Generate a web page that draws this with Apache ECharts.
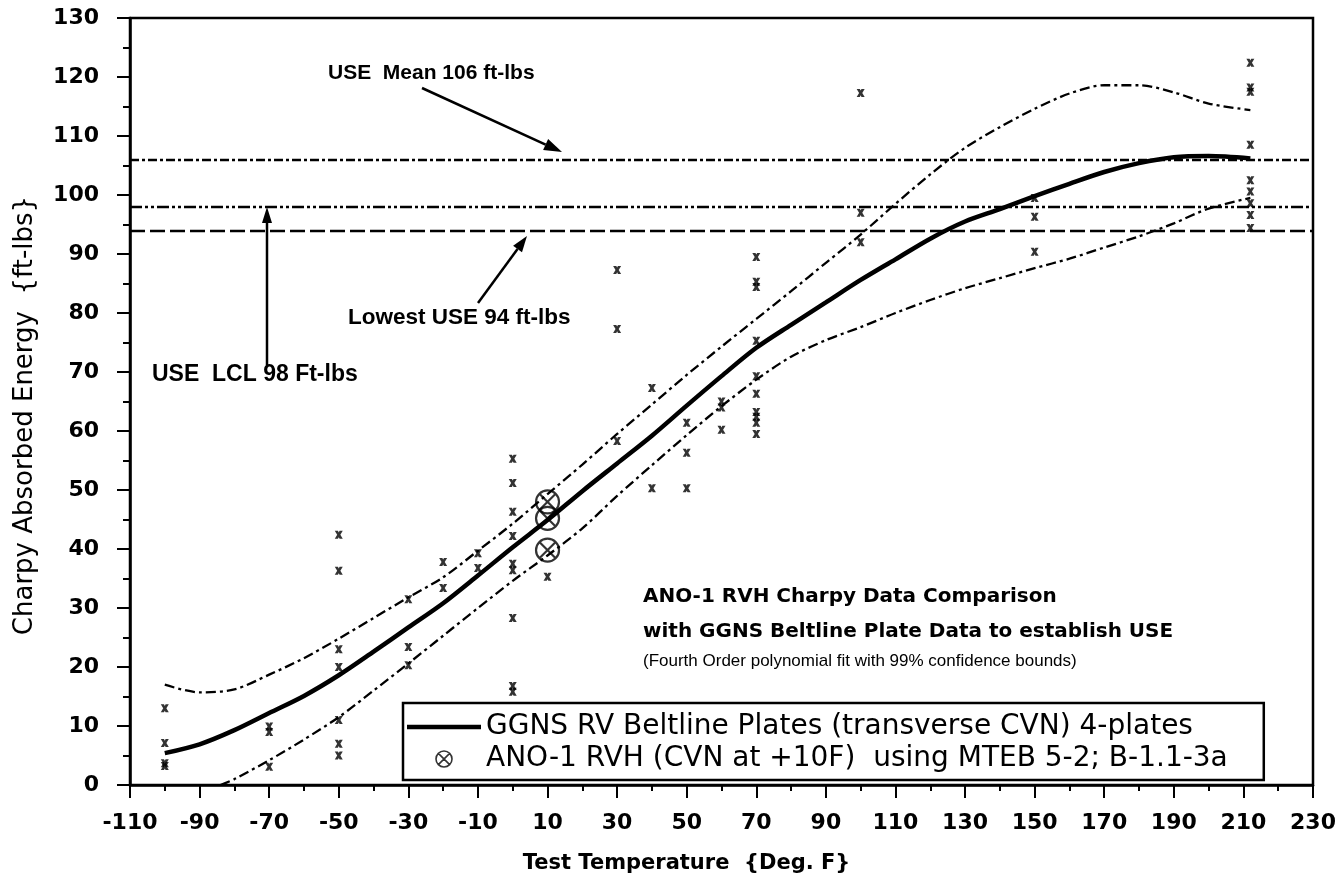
<!DOCTYPE html>
<html><head><meta charset="utf-8">
<script src="https://cdn.jsdelivr.net/npm/echarts@6/dist/echarts.min.js"></script>
<style>html,body{margin:0;padding:0;background:#fff}#c{width:1341px;height:884px}</style>
</head><body><div id="c"></div>
<script>
// ---- data ----
const fitX   = [-100,-90,-80,-70,-60,-50,-40,-30,-20,-10,0,10,20,30,40,50,60,70,80,90,100,110,120,130,140,150,160,170,180,190,200,212];
const fitY   = [5.4,6.9,9.3,12.2,15.1,18.6,22.6,26.7,30.8,35.5,40.3,44.9,49.8,54.5,59.2,64.3,69.3,74.1,78.0,81.8,85.6,89.1,92.6,95.5,97.6,99.8,101.9,103.9,105.4,106.4,106.6,106.2];
const upperX = [-100,-90,-80,-70,-60,-50,-40,-30,-20,-10,0,10,20,30,40,50,60,70,80,90,100,110,120,130,140,150,160,170,180,190,200,212];
const upperY = [17.0,15.7,16.2,18.7,21.5,24.8,28.3,31.8,35.2,39.7,44.3,49.3,54.3,59.5,64.5,69.5,74.3,79.0,83.7,88.5,93.3,98.5,103.5,108.0,111.5,114.6,117.2,118.6,118.6,117.4,115.5,114.4];
const lowerX = [-84,-80,-70,-60,-50,-40,-30,-20,-10,0,10,20,30,40,50,60,70,80,90,100,110,120,130,140,150,160,170,180,190,200,212];
const lowerY = [0,1.0,4.2,7.7,11.5,16.0,20.6,25.3,30.0,34.6,38.9,43.5,49.0,54.2,59.3,64.2,68.7,72.6,75.4,77.6,80.0,82.2,84.2,85.9,87.6,89.2,91.1,93.0,95.2,97.7,99.5];
const ggnsTemp = [-100,-100,-100,-100, -70,-70,-70, -50,-50,-50,-50,-50,-50,-50, -30,-30,-30, -20,-20, -10,-10,
  0,0,0,0,0,0,0,0,0, 10, 30,30,30, 40,40, 50,50,50, 60,60,60, 70,70,70,70,70,70,70,70,70,70,
  100,100,100, 150,150,150, 212,212,212,212,212,212,212,212,212];
const ggnsCVN  = [13.0,7.1,3.7,3.2, 9.9,9.0,3.1, 42.4,36.3,23.0,20.0,11.0,7.0,5.0, 31.5,23.4,20.3, 37.8,33.4, 39.3,36.8,
  55.3,51.2,46.3,42.2,37.5,36.4,28.3,16.8,15.8, 35.3, 87.3,77.3,58.3, 67.3,50.3, 61.4,56.3,50.3, 65.0,64.0,60.2,
  89.5,85.3,84.4,75.3,69.3,66.3,63.2,62.4,61.4,59.5,
  117.3,97.0,92.0, 99.5,96.3,90.4, 122.4,118.2,117.5,108.5,102.5,100.6,98.6,96.6,94.4];
const anoTemp  = [10,10,10];
const anoCVN   = [48.0,45.2,39.8];
const useLevels = [106, 98, 94];   // USE mean, USE LCL, lowest USE

const fitName = 'GGNS RV Beltline Plates (transverse CVN) 4-plates';
const anoName = 'ANO-1 RVH (CVN at +10F)  using MTEB 5-2; B-1.1-3a';

const pairs = (xs, ys) => xs.map((x, i) => [x, ys[i]]);
const refDash = [[9,3,3,3],[12,3,3,3,3,3],[15,5]];
const bandDash = [10,4,3,4];
const xMark = 'path://M0,0L4,0L5,2L6,0L10,0L7,5L10,10L6,10L5,8L4,10L0,10L3,5Z';
const circX = 'path://M10,0A10,10,0,1,1,10,20A10,10,0,1,1,10,0ZM2.93,2.93L17.07,17.07M17.07,2.93L2.93,17.07';
const lineIcon = 'path://M0,0H74V4.5H0Z';

function arrow(x1, y1, x2, y2, head, half) {
  const dx = x2 - x1, dy = y2 - y1, L = Math.hypot(dx, dy), ux = dx / L, uy = dy / L;
  const bx = x2 - ux * head, by = y2 - uy * head;
  return [
    {type:'line', silent:true, shape:{x1:x1, y1:y1, x2:bx, y2:by}, style:{stroke:'#000', lineWidth:2.5}},
    {type:'polygon', silent:true, shape:{points:[[x2,y2],[bx - uy*half, by + ux*half],[bx + uy*half, by - ux*half]]}, style:{fill:'#000'}}
  ];
}
function txt(x, y, s, font) {
  return {type:'text', silent:true, x:x, y:y, style:{text:s, font:font, fill:'#000', verticalAlign:'middle', align:'left'}};
}

const chart = echarts.init(document.getElementById('c'));
chart.setOption({
  animation: false,
  backgroundColor: '#fff',
  color: ['#000'],
  grid: {left:130, top:18, width:1183, height:767, show:true, borderColor:'#000', borderWidth:2.5},
  xAxis: {
    type:'value', min:-110, max:230, interval:20,
    name:'Test Temperature  {Deg. F}', nameLocation:'middle', nameGap:68,
    nameTextStyle:{fontFamily:'DejaVu Sans', fontSize:21, fontWeight:'bold', color:'#000', padding:[0,70,0,0]},
    axisLine:{show:true, onZero:false, lineStyle:{color:'#000', width:2.5}},
    axisTick:{show:true, length:13, lineStyle:{color:'#000', width:2}},
    minorTick:{show:true, splitNumber:2, length:6, lineStyle:{color:'#000', width:2}},
    splitLine:{show:false},
    axisLabel:{fontFamily:'DejaVu Sans', fontWeight:'bold', fontSize:22, color:'#000', margin:27}
  },
  yAxis: {
    type:'value', min:0, max:130, interval:10,
    name:'Charpy Absorbed Energy  {ft-lbs}', nameLocation:'middle', nameGap:92,
    nameTextStyle:{fontFamily:'DejaVu Sans', fontSize:26, color:'#000', padding:[0,28,0,0]},
    axisLine:{show:true, onZero:false, lineStyle:{color:'#000', width:2.5}},
    axisTick:{show:true, length:13, lineStyle:{color:'#000', width:2}},
    minorTick:{show:true, splitNumber:2, length:7, lineStyle:{color:'#000', width:2}},
    splitLine:{show:false},
    axisLabel:{fontFamily:'DejaVu Sans', fontWeight:'bold', fontSize:22, color:'#000', margin:31}
  },
  legend: {
    orient:'vertical', left:403, top:703,
    padding:[10,36,7,4], itemGap:4, itemWidth:74, itemHeight:16,
    backgroundColor:'#fff', borderColor:'#000', borderWidth:2.5,
    textStyle:{fontFamily:'DejaVu Sans', fontSize:28, color:'#000'},
    data:[
      {name:fitName, icon:lineIcon, itemStyle:{color:'#000', borderWidth:0}},
      {name:anoName, icon:circX, itemStyle:{color:'transparent', borderColor:'#000', borderWidth:1.6}}
    ]
  },
  series: [
    {name:'upper', type:'line', data:pairs(upperX, upperY), smooth:0.3, symbol:'none', silent:true,
      lineStyle:{color:'#000', width:2.3, type:bandDash},
      markLine:{silent:true, symbol:['none','none'], label:{show:false},
        data: useLevels.map((v, i) => ({yAxis:v, lineStyle:{color:'#000', width:2.3, type:refDash[i]}}))}},
    {name:'lower', type:'line', data:pairs(lowerX, lowerY), smooth:0.3, symbol:'none', silent:true,
      lineStyle:{color:'#000', width:2.3, type:bandDash}},
    {name:fitName, type:'line', data:pairs(fitX, fitY), smooth:0.3, symbol:'none', silent:true,
      itemStyle:{color:'#000'}, lineStyle:{color:'#000', width:4.5}},
    {name:'GGNS data', type:'scatter', data:pairs(ggnsTemp, ggnsCVN), symbol:xMark, symbolSize:8, silent:true,
      itemStyle:{color:'#000'}},
    {name:anoName, type:'scatter', data:pairs(anoTemp, anoCVN), symbol:circX, symbolSize:23, silent:true,
      itemStyle:{color:'transparent', borderColor:'#000', borderWidth:2.2}}
  ],
  graphic: [].concat(
    txt(328, 73, 'USE  Mean 106 ft-lbs', 'bold 21px "Liberation Sans", Arial, sans-serif'),
    arrow(422, 88, 562, 152, 18, 6),
    txt(152, 375, 'USE  LCL 98 Ft-lbs', 'bold 23px "Liberation Sans", Arial, sans-serif'),
    arrow(267, 365, 267, 207, 16, 5),
    txt(348, 318, 'Lowest USE 94 ft-lbs', 'bold 22.5px "Liberation Sans", Arial, sans-serif'),
    arrow(478, 303, 527, 236, 16, 5.5),
    txt(643, 597, 'ANO-1 RVH Charpy Data Comparison', 'bold 20px "DejaVu Sans", sans-serif'),
    txt(643, 632, 'with GGNS Beltline Plate Data to establish USE', 'bold 20px "DejaVu Sans", sans-serif'),
    txt(643, 661, '(Fourth Order polynomial fit with 99% confidence bounds)', '17px "Liberation Sans", Arial, sans-serif')
  )
});
</script>
</body></html>
